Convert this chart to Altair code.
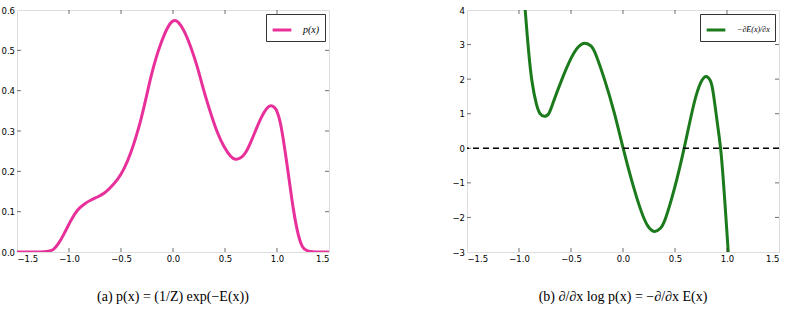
import altair as alt
import pandas as pd

# ---- data ----
p_x = [-1.5, -1.2, -1.15, -1.1, -1.045, -0.98, -0.917, -0.85, -0.789, -0.72, -0.661, -0.6,
       -0.533, -0.47, -0.405, -0.35, -0.309, -0.26, -0.213, -0.16, -0.117, -0.06, 0.0, 0.05,
       0.107, 0.17, 0.235, 0.29, 0.332, 0.38, 0.428, 0.49, 0.556, 0.6, 0.65, 0.7, 0.748,
       0.8, 0.85, 0.9, 0.94, 0.98, 1.0, 1.03, 1.052, 1.1, 1.142, 1.196, 1.244, 1.292, 1.5]
p_y = [0.0, 0.0, 0.005, 0.02, 0.046, 0.08, 0.106, 0.12, 0.129, 0.137, 0.145, 0.16,
       0.179, 0.205, 0.245, 0.29, 0.327, 0.38, 0.435, 0.485, 0.517, 0.555, 0.577, 0.572,
       0.55, 0.51, 0.46, 0.405, 0.369, 0.33, 0.294, 0.260, 0.235, 0.228, 0.232, 0.245, 0.272,
       0.305, 0.335, 0.357, 0.365, 0.358, 0.35, 0.325, 0.294, 0.212, 0.129, 0.046, 0.009, 0.0, 0.0]

g_x = [-0.96, -0.941, -0.91, -0.878, -0.83, -0.8, -0.756, -0.71, -0.686, -0.59, -0.495,
       -0.43, -0.367, -0.30, -0.271, -0.175, -0.08, 0.0, 0.08, 0.176, 0.24, 0.303, 0.36,
       0.399, 0.495, 0.59, 0.686, 0.75, 0.798, 0.84, 0.862, 0.91, 0.942, 0.974, 1.012, 1.02]
g_y = [4.8, 4.0, 2.85, 1.89, 1.21, 0.98, 0.9, 0.98, 1.21, 1.99, 2.66,
       2.96, 3.08, 2.96, 2.81, 1.99, 1.02, 0.0, -0.91, -1.87, -2.3, -2.45, -2.33,
       -2.16, -1.2, 0.0, 1.41, 1.96, 2.13, 1.98, 1.79, 0.64, 0.0, -1.29, -3.0, -3.4]

x_ticks = [-1.5, -1.0, -0.5, 0.0, 0.5, 1.0, 1.5]
x_inner_ticks = [-1.0, -0.5, 0.0, 0.5, 1.0]
left_y_ticks = [0.0, 0.1, 0.2, 0.3, 0.4, 0.5, 0.6]
left_y_inner = [0.1, 0.2, 0.3, 0.4, 0.5]
right_y_ticks = [-3, -2, -1, 0, 1, 2, 3, 4]
right_y_inner = [-2, -1, 0, 1, 2, 3]
zero_line = [0]

left_label = "p(x)"
right_label = "\u2212\u2202E(x)/\u2202x"
caption_a = "(a)  p(x) = (1/Z) exp(\u2212E(x))"
caption_b = "(b)  \u2202/\u2202x log p(x) = \u2212\u2202/\u2202x E(x)"

PINK = "#e8309b"
GREEN = "#1b7a1b"
W, H = 312, 242

df_p = pd.DataFrame({"x": p_x, "y": p_y, "s": left_label})
df_g = pd.DataFrame({"x": g_x, "y": g_y, "s": right_label})

axis_common = dict(domain=False, ticks=False, labelPadding=2.5, labelFontSize=8.5,
                   labelFont="DejaVu Sans", labelColor="#000", grid=False, title=None,
                   labelOverlap=False)


def panel(df, color, label, ydom, yticks, yfmt, yinner, caption, legend_fs, with_zero=False):
    xs = alt.Scale(domain=[-1.5, 1.5], nice=False, zero=False)
    ys = alt.Scale(domain=ydom, nice=False, zero=False)
    xax = alt.Axis(values=x_ticks, format=".1f", **axis_common)
    yax = alt.Axis(values=yticks, format=yfmt, **axis_common)

    line = alt.Chart(df).mark_line(strokeWidth=3, interpolate="basis", clip=True).encode(
        x=alt.X("x:Q", scale=xs, axis=xax),
        y=alt.Y("y:Q", scale=ys, axis=yax),
        color=alt.Color("s:N", scale=alt.Scale(domain=[label], range=[color]),
                        legend=alt.Legend(title=None, orient="top-right", offset=4,
                                          symbolType="stroke", symbolStrokeWidth=3,
                                          symbolSize=350, labelFont="Liberation Serif",
                                          labelFontStyle="italic", labelFontSize=legend_fs,
                                          strokeColor="#333", fillColor="white",
                                          padding=5, cornerRadius=0, labelOffset=10)),
    )
    layers = [line]
    dx = pd.DataFrame({"x": x_inner_ticks})
    dy = pd.DataFrame({"y": yinner})
    for yv in (0, H):
        layers.append(alt.Chart(dx).mark_tick(color="#333", thickness=1, size=8, clip=True,
                                              orient="vertical").encode(
            x=alt.X("x:Q", scale=xs, axis=xax), y=alt.value(yv)))
    for xv in (0, W):
        layers.append(alt.Chart(dy).mark_tick(color="#333", thickness=1, size=8, clip=True,
                                              orient="horizontal").encode(
            y=alt.Y("y:Q", scale=ys, axis=yax), x=alt.value(xv)))
    if with_zero:
        layers.append(alt.Chart(pd.DataFrame({"y": zero_line})).mark_rule(
            color="black", strokeDash=[6, 4], strokeWidth=1.5).encode(
            y=alt.Y("y:Q", scale=ys, axis=yax)))
    return alt.layer(*layers).properties(
        width=W, height=H,
        title=alt.TitleParams(caption, orient="bottom", anchor="middle", frame="group",
                              offset=27, font="Liberation Serif", fontSize=14,
                              fontWeight="normal", color="#000"))


left = panel(df_p, PINK, left_label, [0, 0.6], left_y_ticks, ".1f", left_y_inner, caption_a, 10)
right = panel(df_g, GREEN, right_label, [-3, 4], right_y_ticks, "d", right_y_inner, caption_b, 8,
              with_zero=True)

chart = alt.hconcat(left, right, spacing=121).resolve_scale(color="independent").properties(
    padding={"left": 0, "top": 5, "right": 5, "bottom": 5}
).configure_view(stroke="#333", strokeWidth=1).configure(background="white")

chart.save("out.html", embed_options={"renderer": "svg", "actions": False})
